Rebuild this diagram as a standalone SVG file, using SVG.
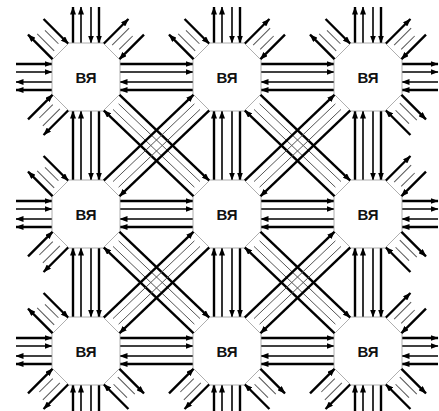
<svg xmlns="http://www.w3.org/2000/svg" xmlns:xlink="http://www.w3.org/1999/xlink" width="439" height="411" viewBox="0 0 439 411">
<style>
.t{stroke:#000;stroke-width:2.4;fill:none}
.m{stroke:#000;stroke-width:1.6;fill:none}
.f{stroke:#555;stroke-width:1;fill:none}
.a{marker-end:url(#ah)}
.oct{fill:#fff;stroke:#999;stroke-width:0.8}
.lbl{font-family:"Liberation Sans",Arial,sans-serif;font-weight:bold;font-size:15px;text-anchor:middle;fill:#111}
</style>
<defs>
<marker id="ah" viewBox="0 0 8 6" refX="7.5" refY="3" markerWidth="8" markerHeight="6" markerUnits="userSpaceOnUse" orient="auto"><path d="M0,0 L8,3 L0,6 z" fill="#000"/></marker>
<g id="sn">
<path class="t a" d="M-13,-34V-70"/>
<path class="m a" d="M-5,-34V-70"/>
<path class="m a" d="M5,-70V-34"/>
<path class="t a" d="M13,-70V-34"/>
</g>
<g id="sd">
<path class="t a" d="M-11,-36V-71"/>
<path class="t a" d="M11,-71V-36"/>
<path class="f" d="M-4,-41V-65"/>
<path class="f" d="M4,-43V-62"/>
</g>
<g id="hb">
<path class="t a" d="M34,-13H107"/>
<path class="m a" d="M34,-5H107"/>
<path class="m a" d="M107,5H34"/>
<path class="t a" d="M107,13H34"/>
</g>
<g id="vb">
<path class="t a" d="M-13,103V34"/>
<path class="m a" d="M-5,103V34"/>
<path class="m a" d="M5,34V103"/>
<path class="t a" d="M13,34V103"/>
</g>
<g id="dse">
<path class="t a" d="M33.3,17.7L123.3,103.7"/>
<path class="t a" d="M107.7,119.3L17.7,33.3"/>
<path class="f" d="M32.6,26.8L114,104.6"/>
<path class="f" d="M27,32.4L108.4,110.2"/>
</g>
<g id="dsw">
<path class="t a" d="M-17.7,33.3L-107.7,119.3"/>
<path class="t a" d="M-123.3,103.7L-33.3,17.7"/>
<path class="f" d="M-32.6,26.8L-114,104.6"/>
<path class="f" d="M-27,32.4L-108.4,110.2"/>
</g>
</defs>
<g id="connectors">
<use href="#hb" transform="translate(86,77)"/>
<use href="#hb" transform="translate(227,77)"/>
<use href="#hb" transform="translate(86,214)"/>
<use href="#hb" transform="translate(227,214)"/>
<use href="#hb" transform="translate(86,351)"/>
<use href="#hb" transform="translate(227,351)"/>
<use href="#vb" transform="translate(86,77)"/>
<use href="#vb" transform="translate(227,77)"/>
<use href="#vb" transform="translate(368,77)"/>
<use href="#vb" transform="translate(86,214)"/>
<use href="#vb" transform="translate(227,214)"/>
<use href="#vb" transform="translate(368,214)"/>
<use href="#dse" transform="translate(86,77)"/>
<use href="#dse" transform="translate(227,77)"/>
<use href="#dse" transform="translate(86,214)"/>
<use href="#dse" transform="translate(227,214)"/>
<use href="#dsw" transform="translate(227,77)"/>
<use href="#dsw" transform="translate(368,77)"/>
<use href="#dsw" transform="translate(227,214)"/>
<use href="#dsw" transform="translate(368,214)"/>
<use href="#sn" transform="translate(86,77)"/>
<use href="#sn" transform="translate(227,77)"/>
<use href="#sn" transform="translate(368,77)"/>
<use href="#sn" transform="translate(86,351) rotate(180)"/>
<use href="#sn" transform="translate(227,351) rotate(180)"/>
<use href="#sn" transform="translate(368,351) rotate(180)"/>
<use href="#sn" transform="translate(86,77) rotate(-90)"/>
<use href="#sn" transform="translate(86,214) rotate(-90)"/>
<use href="#sn" transform="translate(86,351) rotate(-90)"/>
<use href="#sn" transform="translate(368,77) rotate(90)"/>
<use href="#sn" transform="translate(368,214) rotate(90)"/>
<use href="#sn" transform="translate(368,351) rotate(90)"/>
<use href="#sd" transform="translate(86,77) rotate(-45)"/>
<use href="#sd" transform="translate(86,77) rotate(45)"/>
<use href="#sd" transform="translate(86,77) rotate(225)"/>
<use href="#sd" transform="translate(227,77) rotate(-45)"/>
<use href="#sd" transform="translate(227,77) rotate(45)"/>
<use href="#sd" transform="translate(368,77) rotate(-45)"/>
<use href="#sd" transform="translate(368,77) rotate(45)"/>
<use href="#sd" transform="translate(368,77) rotate(135)"/>
<use href="#sd" transform="translate(86,214) rotate(-45)"/>
<use href="#sd" transform="translate(86,214) rotate(225)"/>
<use href="#sd" transform="translate(368,214) rotate(45)"/>
<use href="#sd" transform="translate(368,214) rotate(135)"/>
<use href="#sd" transform="translate(86,351) rotate(-45)"/>
<use href="#sd" transform="translate(86,351) rotate(225)"/>
<use href="#sd" transform="translate(86,351) rotate(135)"/>
<use href="#sd" transform="translate(227,351) rotate(225)"/>
<use href="#sd" transform="translate(227,351) rotate(135)"/>
<use href="#sd" transform="translate(368,351) rotate(45)"/>
<use href="#sd" transform="translate(368,351) rotate(225)"/>
<use href="#sd" transform="translate(368,351) rotate(135)"/>
</g>
<g id="n11" transform="translate(86,77)"><polygon class="oct" points="-17,-34 17,-34 34,-17 34,17 17,34 -17,34 -34,17 -34,-17"/><text class="lbl" y="6">ВЯ</text></g>
<g id="n12" transform="translate(227,77)"><polygon class="oct" points="-17,-34 17,-34 34,-17 34,17 17,34 -17,34 -34,17 -34,-17"/><text class="lbl" y="6">ВЯ</text></g>
<g id="n13" transform="translate(368,77)"><polygon class="oct" points="-17,-34 17,-34 34,-17 34,17 17,34 -17,34 -34,17 -34,-17"/><text class="lbl" y="6">ВЯ</text></g>
<g id="n21" transform="translate(86,214)"><polygon class="oct" points="-17,-34 17,-34 34,-17 34,17 17,34 -17,34 -34,17 -34,-17"/><text class="lbl" y="6">ВЯ</text></g>
<g id="n22" transform="translate(227,214)"><polygon class="oct" points="-17,-34 17,-34 34,-17 34,17 17,34 -17,34 -34,17 -34,-17"/><text class="lbl" y="6">ВЯ</text></g>
<g id="n23" transform="translate(368,214)"><polygon class="oct" points="-17,-34 17,-34 34,-17 34,17 17,34 -17,34 -34,17 -34,-17"/><text class="lbl" y="6">ВЯ</text></g>
<g id="n31" transform="translate(86,351)"><polygon class="oct" points="-17,-34 17,-34 34,-17 34,17 17,34 -17,34 -34,17 -34,-17"/><text class="lbl" y="6">ВЯ</text></g>
<g id="n32" transform="translate(227,351)"><polygon class="oct" points="-17,-34 17,-34 34,-17 34,17 17,34 -17,34 -34,17 -34,-17"/><text class="lbl" y="6">ВЯ</text></g>
<g id="n33" transform="translate(368,351)"><polygon class="oct" points="-17,-34 17,-34 34,-17 34,17 17,34 -17,34 -34,17 -34,-17"/><text class="lbl" y="6">ВЯ</text></g>
</svg>
